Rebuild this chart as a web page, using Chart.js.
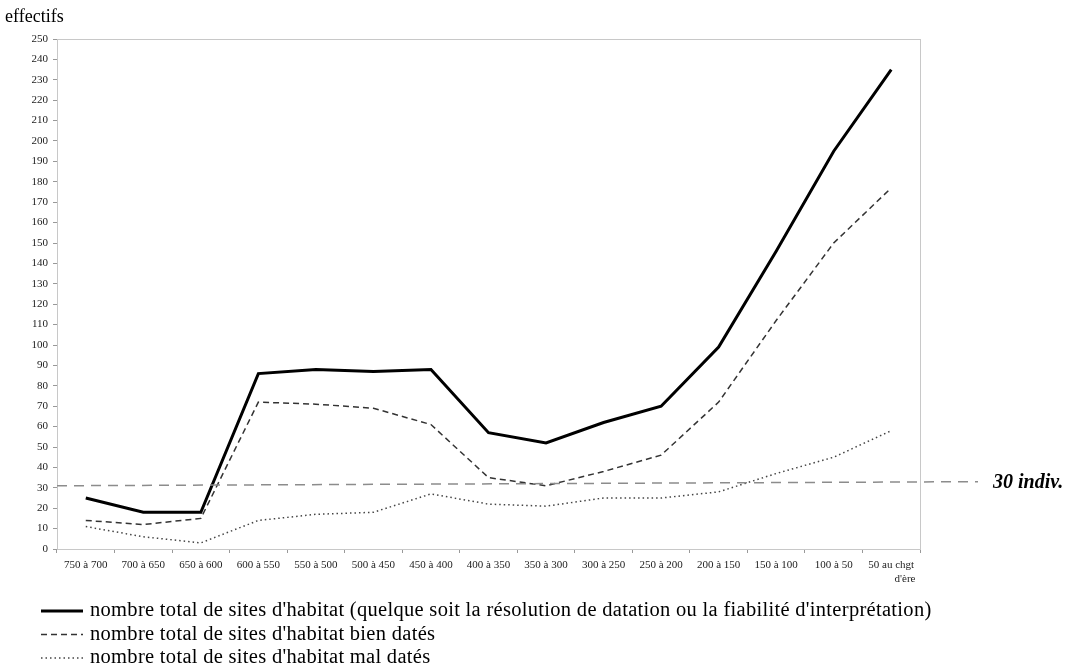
<!DOCTYPE html>
<html>
<head>
<meta charset="utf-8">
<script src="https://cdn.jsdelivr.net/npm/chart.js@4"></script>
<style>
  html, body { margin: 0; padding: 0; background: #fff; }
  #wrap { width: 1070px; height: 672px; position: relative; }
</style>
</head>
<body>
<div id="wrap"><canvas id="myChart" width="1070" height="672"></canvas></div>
<script>
// periodes (av. J.-C.)
var periodes = ['750 à 700', '700 à 650', '650 à 600', '600 à 550', '550 à 500', '500 à 450', '450 à 400',
    '400 à 350', '350 à 300', '300 à 250', '250 à 200', '200 à 150', '150 à 100', '100 à 50', ['50 au chgt', "          d'ère"]];

// effectifs
var totalSites = [25, 18, 18, 86, 88, 87, 88, 57, 52, 62, 70, 99, 146, 195, 235];
var bienDates  = [14, 12, 15, 72, 71, 69, 61, 35, 31, 38, 46, 72, 112, 150, 177];
var malDates   = [11, 6, 3, 14, 17, 18, 27, 22, 21, 25, 25, 28, 37, 45, 58];

var legendes = [
    "nombre total de sites d'habitat (quelque soit la résolution de datation ou la fiabilité d'interprétation)",
    "nombre total de sites d'habitat bien datés",
    "nombre total de sites d'habitat mal datés"
];

// seuil de 30 individus (trait un peu incliné sur l'original)
var seuilDebut = 31;
var seuilFin = 33;
var seuilLabel = '30 indiv.';

var yMin = 0, yMax = 250, yPas = 10;

var serif = '"Liberation Serif", "Times New Roman", serif';

var styles = [
    { color: '#000', width: 3, dash: [] },
    { color: '#333', width: 1.5, dash: [6, 4] },
    { color: '#444', width: 1.5, dash: [1.5, 3] }
];

// dessine le cadre, le seuil, le titre d'axe et la légende
var decor = {
    id: 'decor',
    beforeDatasetsDraw: function(chart) {
        var ctx = chart.ctx, a = chart.chartArea;
        ctx.save();
        ctx.strokeStyle = '#c8c8c8';
        ctx.lineWidth = 1;
        ctx.strokeRect(a.left + 0.5, a.top + 0.5, a.right - a.left, a.bottom - a.top);
        ctx.restore();
    },
    afterDatasetsDraw: function(chart) {
        var ctx = chart.ctx, a = chart.chartArea, y = chart.scales.y;
        ctx.save();
        // seuil
        ctx.strokeStyle = '#8c8c8c';
        ctx.lineWidth = 1.5;
        ctx.setLineDash([10, 7]);
        ctx.beginPath();
        ctx.moveTo(a.left, y.getPixelForValue(seuilDebut));
        ctx.lineTo(a.right + 58, y.getPixelForValue(seuilFin));
        ctx.stroke();
        ctx.setLineDash([]);
        ctx.fillStyle = '#000';
        ctx.font = 'italic bold 20px ' + serif;
        ctx.textBaseline = 'middle';
        ctx.textAlign = 'left';
        ctx.fillText(seuilLabel, a.right + 73, y.getPixelForValue(seuilFin) + 1);

        // titre axe
        ctx.font = '18px ' + serif;
        ctx.textBaseline = 'alphabetic';
        ctx.fillText('effectifs', 5, 22);

        // légende
        ctx.font = '20.5px ' + serif;
        ctx.letterSpacing = '0.3px';
        ctx.textBaseline = 'middle';
        for (var i = 0; i < legendes.length; i++) {
            var ly = 611 + i * 23.5;
            ctx.strokeStyle = styles[i].color;
            ctx.lineWidth = styles[i].width;
            ctx.setLineDash(styles[i].dash);
            ctx.beginPath();
            ctx.moveTo(41, ly);
            ctx.lineTo(83, ly);
            ctx.stroke();
            ctx.setLineDash([]);
            ctx.fillStyle = '#000';
            ctx.fillText(legendes[i], 90, ly);
        }
        ctx.restore();
    }
};

var donnees = [totalSites, bienDates, malDates];
var datasets = [];
for (var i = 0; i < donnees.length; i++) {
    datasets.push({
        label: legendes[i],
        data: donnees[i],
        borderColor: styles[i].color,
        borderWidth: styles[i].width,
        borderDash: styles[i].dash,
        pointRadius: 0,
        tension: 0,
        fill: false
    });
}

new Chart(document.getElementById('myChart').getContext('2d'), {
    type: 'line',
    data: { labels: periodes, datasets: datasets },
    plugins: [decor],
    options: {
        responsive: false,
        animation: false,
        layout: { padding: { left: 0, top: 39, right: 150, bottom: 83 } },
        plugins: {
            legend: { display: false },
            tooltip: { enabled: false }
        },
        scales: {
            x: {
                offset: true,
                afterFit: function(s) { s.height = 40; },
                grid: { display: true, drawOnChartArea: false, offset: true, tickLength: 4, color: '#999' },
                border: { color: '#999' },
                ticks: {
                    color: '#222', maxRotation: 0, autoSkip: false, padding: 6,
                    font: { family: serif, size: 11 }
                }
            },
            y: {
                min: yMin, max: yMax,
                afterFit: function(s) { s.width = 57; },
                grid: { display: true, drawOnChartArea: false, tickLength: 4, color: '#999' },
                border: { color: '#999' },
                ticks: {
                    stepSize: yPas, color: '#222', padding: 5,
                    font: { family: serif, size: 11 }
                }
            }
        }
    }
});
</script>
</body>
</html>
